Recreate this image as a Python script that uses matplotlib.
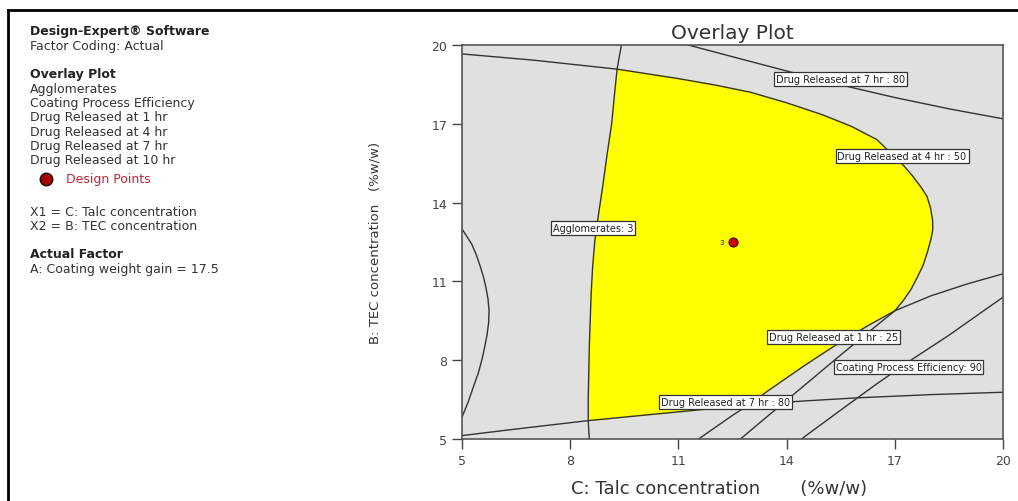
import numpy as np
import matplotlib
matplotlib.use("Agg")
import matplotlib.pyplot as plt
from matplotlib.lines import Line2D

plt.rcParams['font.family'] = ['DejaVu Sans']

# axis ticks
ticks = [5, 8, 11, 14, 17, 20]

# contour lines (x = talc, y = TEC)
agg_x = [9.42, 9.30, 9.22, 9.15, 9.02, 8.90, 8.78, 8.68, 8.62, 8.58, 8.53, 8.50, 8.50, 8.53]
agg_y = [20.0, 19.08, 18.0, 17.0, 15.8, 14.6, 13.5, 12.5, 11.5, 10.5, 8.5, 6.5, 5.70, 5.0]

agg2_x = [5.0, 5.14, 5.27, 5.40, 5.50, 5.59, 5.66, 5.72, 5.75, 5.74, 5.70, 5.63, 5.55, 5.45, 5.32, 5.17, 5.0]
agg2_y = [13.0, 12.7, 12.42, 12.0, 11.6, 11.2, 10.8, 10.35, 9.9, 9.45, 9.0, 8.5, 8.0, 7.5, 7.0, 6.4, 5.83]

dr4_x = [5.0, 7.0, 9.30, 11.0, 12.0, 13.0, 14.0, 15.0, 15.8, 16.5, 16.95, 17.25, 17.5, 17.72,
         17.89, 17.99, 18.05, 18.05, 18.0, 17.9, 17.78, 17.62, 17.45, 17.24, 17.0,
         16.3, 15.5, 14.5, 13.5, 12.72]
dr4_y = [19.66, 19.42, 19.08, 18.72, 18.48, 18.2, 17.8, 17.34, 16.9, 16.4, 15.8, 15.4, 15.0, 14.6,
         14.24, 13.8, 13.3, 12.95, 12.6, 12.1, 11.6, 11.15, 10.7, 10.28, 9.88,
         9.1, 8.2, 7.05, 5.9, 5.0]

dr1_x = [11.56, 12.5, 12.95, 13.5, 14.5, 15.5, 16.3, 17.0, 18.0, 19.0, 20.0]
dr1_y = [5.0, 5.9, 6.3, 6.85, 7.8, 8.7, 9.35, 9.88, 10.45, 10.9, 11.29]

dr7_low_x = [5.0, 6.5, 8.5, 10.0, 11.5, 12.95, 14.5, 16.0, 18.0, 20.0]
dr7_low_y = [5.13, 5.38, 5.70, 5.90, 6.10, 6.3, 6.45, 6.57, 6.69, 6.78]

dr7_up_x = [11.27, 12.7, 14.14, 15.5, 17.0, 18.5, 20.0]
dr7_up_y = [20.0, 19.48, 18.96, 18.48, 18.0, 17.57, 17.19]

cpe_x = [14.41, 15.5, 16.5, 17.5, 18.5, 20.0]
cpe_y = [5.0, 6.1, 7.1, 8.05, 8.95, 10.4]

design_x = [12.5]
design_y = [12.5]

labels = ["Drug Released at 7 hr : 80", "Drug Released at 4 hr : 50", "Agglomerates: 3",
          "Drug Released at 1 hr : 25", "Coating Process Efficiency: 90",
          "Drug Released at 7 hr : 80"]
label_x = [15.5, 17.2, 8.63, 15.3, 17.38, 12.3]
label_y = [18.72, 15.76, 13.04, 8.88, 7.73, 6.4]

legend_lines = [("Design-Expert® Software", True), ("Factor Coding: Actual", False),
                ("", False), ("Overlay Plot", True), ("Agglomerates", False),
                ("Coating Process Efficiency", False), ("Drug Released at 1 hr", False),
                ("Drug Released at 4 hr", False), ("Drug Released at 7 hr", False),
                ("Drug Released at 10 hr", False)]
legend_lines2 = [("X1 = C: Talc concentration", False), ("X2 = B: TEC concentration", False),
                 ("", False), ("Actual Factor", True), ("A: Coating weight gain = 17.5", False)]

fig = plt.figure(figsize=(10.18, 5.02), dpi=100)
ax = fig.add_axes([0.4538, 0.1235, 0.5315, 0.7849])
ax.set_facecolor('#e0e0e0')

# feasible (yellow) region built from the bounding contours
poly_x = np.concatenate([agg_x[1:13], dr7_low_x[3:6], dr1_x[3:8], dr4_x[2:25][::-1]])
poly_y = np.concatenate([agg_y[1:13], dr7_low_y[3:6], dr1_y[3:8], dr4_y[2:25][::-1]])
ax.fill(poly_x, poly_y, color='#ffff00', zorder=1)

lc = '#333333'
for xs, ys in [(agg_x, agg_y), (agg2_x, agg2_y), (dr4_x, dr4_y), (dr1_x, dr1_y),
               (dr7_low_x, dr7_low_y), (dr7_up_x, dr7_up_y), (cpe_x, cpe_y)]:
    ax.plot(xs, ys, color=lc, lw=1.0, zorder=2, solid_joinstyle='round')

for t, x, y in zip(labels, label_x, label_y):
    ax.text(x, y, t, fontsize=7, color='#222222', ha='center', va='center',
            zorder=4, bbox=dict(boxstyle='square,pad=0.2', fc='white', ec='#333333', lw=0.9))

ax.scatter(design_x, design_y, s=42, c='#cc0000', edgecolors='#440000', linewidths=0.8, zorder=5)
ax.text(design_x[0] - 0.3, design_y[0], "3", fontsize=5, ha='center', va='center', color='#222222')

ax.set_xlim(5, 20)
ax.set_ylim(5, 20)
ax.set_xticks(ticks)
ax.set_yticks(ticks)
ax.tick_params(direction='out', length=7, width=1, color='#444444', labelsize=9, labelcolor='#444444')
for s in ax.spines.values():
    s.set_color('#555555')
    s.set_linewidth(1.2)
ax.set_title("Overlay Plot", fontsize=14.5, color='#333333', pad=5)
ax.set_xlabel("C: Talc concentration       (%w/w)", fontsize=13, color='#333333', labelpad=9)
ax.xaxis.label.set_x(0.475)
ax.set_ylabel("B: TEC concentration   (%w/w)", fontsize=9.5, color='#333333', labelpad=36)

# description panel on the left
y = 1 - 32 / 502
for t, bold in legend_lines:
    fig.text(30 / 1018, y, t, fontsize=9, fontweight='bold' if bold else 'normal',
             color='#222222' if bold else '#333333', va='center')
    y -= 14.3 / 502
fig.add_artist(Line2D([46 / 1018], [1 - 180 / 502], marker='o', markersize=9,
                      markerfacecolor='#aa0000', markeredgecolor='#111111', transform=fig.transFigure))
fig.text(66 / 1018, 1 - 180 / 502, "Design Points", fontsize=9, color='#cc2233', va='center')
y = 1 - 212 / 502
for t, bold in legend_lines2:
    fig.text(30 / 1018, y, t, fontsize=9, fontweight='bold' if bold else 'normal',
             color='#222222' if bold else '#333333', va='center')
    y -= 14.3 / 502

# outer frame lines (top and left)
fig.add_artist(Line2D([8 / 1018, 1], [1 - 11 / 502, 1 - 11 / 502], color='black', lw=2,
                      transform=fig.transFigure))
fig.add_artist(Line2D([8 / 1018, 8 / 1018], [0, 1 - 11 / 502], color='black', lw=2,
                      transform=fig.transFigure))

fig.savefig("out.png", dpi=100)
